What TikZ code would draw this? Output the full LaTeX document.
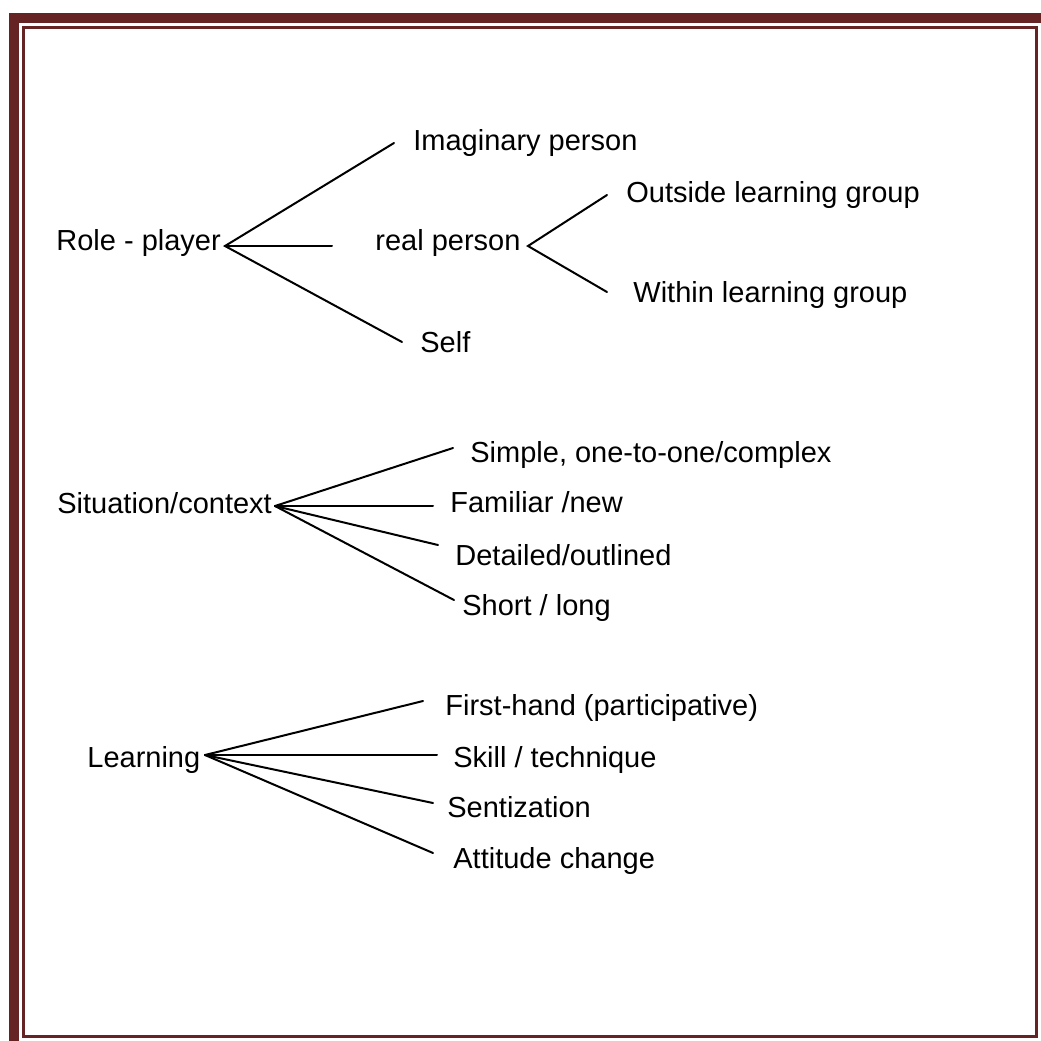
\documentclass[tikz,border=0pt]{standalone}
\usepackage{fontspec}
\setmainfont{Liberation Sans}
\usetikzlibrary{positioning}
\definecolor{framered}{RGB}{101,35,36}

\begin{document}
\begin{tikzpicture}[x=0.5pt, y=-0.5pt,
    lbl/.style={anchor=base west, inner sep=0pt, font=\fontsize{14.5}{17}\selectfont},
    branch/.style={line width=1pt, line cap=round}]

    \useasboundingbox (0,0) rectangle (1041,1041);

    % page border
    \fill[framered] (9,13) rectangle (1041,23);
    \fill[framered] (9,13) rectangle (19,1041);
    \draw[framered, line width=1.5pt] (23.5,27.5) rectangle (1036.5,1036.5);

    % role-player
    \node[lbl] (role) at (56,250) {Role - player};
    \node[lbl] (imag) at (413,150) {Imaginary person};
    \node[lbl] (real) at (375,250) {real person};
    \node[lbl] (self) at (420,352) {Self};
    \node[lbl] (outs) at (626,202) {Outside learning group};
    \node[lbl] (with) at (633,302) {Within learning group};

    \coordinate (roleV) at (225,246);
    \coordinate (imagE) at (394,143);
    \coordinate (realE) at (332,246);
    \coordinate (selfE) at (402,342);
    \coordinate (realV) at (528,246);
    \coordinate (outsE) at (607,195);
    \coordinate (withE) at (607,292);

    \draw[branch] (imagE) -- (roleV) -- (selfE);
    \draw[branch] (roleV) -- (realE);
    \draw[branch] (outsE) -- (realV) -- (withE);

    % situation/context
    \node[lbl] (sit) at (57,513) {Situation/context};
    \node[lbl] (simp) at (470,462) {Simple, one-to-one/complex};
    \node[lbl] (fam) at (450,512) {Familiar /new};
    \node[lbl] (det) at (455,565) {Detailed/outlined};
    \node[lbl] (short) at (462,615) {Short / long};

    \coordinate (sitV) at (275,506);
    \coordinate (simpE) at (453,448);
    \coordinate (famE) at (433,506);
    \coordinate (detE) at (438,545);
    \coordinate (shortE) at (454,600);

    \foreach \e in {simpE,famE,detE,shortE}
        \draw[branch] (sitV) -- (\e);

    % learning
    \node[lbl] (learn) at (87,767) {Learning};
    \node[lbl] (first) at (445,715) {First-hand (participative)};
    \node[lbl] (skill) at (453,767) {Skill / technique};
    \node[lbl] (sent) at (447,817) {Sentization};
    \node[lbl] (att) at (453,868) {Attitude change};

    \coordinate (learnV) at (205,755);
    \coordinate (firstE) at (423,701);
    \coordinate (skillE) at (437,755);
    \coordinate (sentE) at (433,803);
    \coordinate (attE) at (433,853);

    \foreach \e in {firstE,skillE,sentE,attE}
        \draw[branch] (learnV) -- (\e);

\end{tikzpicture}
\end{document}
